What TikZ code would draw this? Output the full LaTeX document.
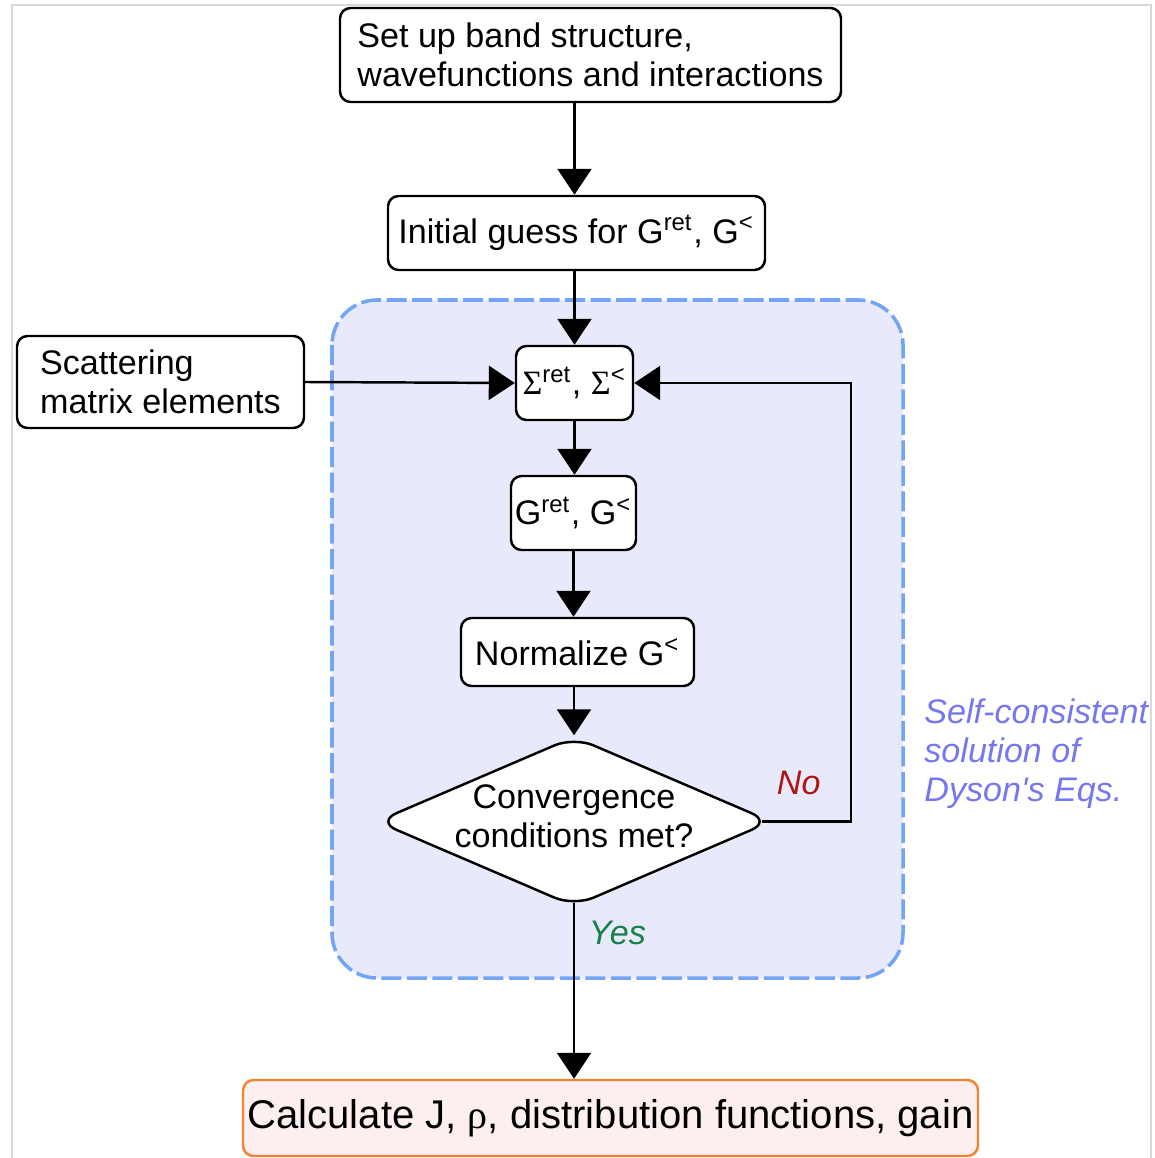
\documentclass[tikz,border=0pt]{standalone}
\usepackage{fontspec}
\setmainfont{Liberation Sans}
\newfontfamily\greekfont{Liberation Serif}
\usetikzlibrary{arrows.meta,shapes.geometric}

\definecolor{loopfill}{RGB}{233,233,252}
\definecolor{loopline}{RGB}{116,164,246}
\definecolor{loopnote}{RGB}{118,118,240}
\definecolor{nored}{RGB}{176,20,20}
\definecolor{yesgreen}{RGB}{24,128,72}
\definecolor{resultline}{RGB}{242,132,52}
\definecolor{resultfill}{RGB}{253,239,239}

\begin{document}
\begin{tikzpicture}[
        font=\fontsize{9.7}{11.1}\selectfont,
        box/.style={draw, line width=0.7pt, rounded corners=3pt, fill=white, inner sep=0pt},
        decision/.style={draw, line width=0.7pt, diamond, rounded corners=6pt, fill=white,
            inner sep=0pt, minimum width=3.95cm, minimum height=1.70cm},
        flow/.style={-{Triangle[width=3.4mm,length=2.6mm]}, line width=0.7pt},
        tag/.style={font=\fontsize{9.7}{11.1}\selectfont\itshape}
    ]
    \useasboundingbox (0,0) rectangle (11.54,-11.58);
    \draw[black!15, line width=0.4pt] (0.12,-11.58) -- (0.12,-0.05) -- (11.51,-0.05) -- (11.51,-11.58);

    \draw[fill=loopfill, draw=loopline, line width=1pt, dash pattern=on 2mm off 0.55mm,
        rounded corners=0.45cm] (3.32,-3.00) rectangle (9.03,-9.78);
    \node[right, align=left, text=loopnote, tag] (dysonnote) at (9.12,-7.54)
        {Self-consistent\\solution of\\Dyson\textquotesingle s Eqs.};

    \node[box, minimum width=5.01cm, minimum height=0.94cm, align=left] (setup) at (5.905,-0.55)
        {Set up band structure,\\wavefunctions and interactions};
    \node[box, minimum width=3.77cm, minimum height=0.74cm] (guess) at (5.765,-2.33)
        {Initial guess for G\textsuperscript{ret}, G\textsuperscript{<}};
    \node[box, minimum width=2.87cm, minimum height=0.92cm, align=left] (scatter) at (1.605,-3.82)
        {Scattering\\matrix elements};
    \node[box, minimum width=1.17cm, minimum height=0.74cm] (sigma) at (5.745,-3.83)
        {{\greekfont Σ}\textsuperscript{ret}, {\greekfont Σ}\textsuperscript{<}};
    \node[box, minimum width=1.25cm, minimum height=0.74cm] (green) at (5.735,-5.13)
        {G\textsuperscript{ret}, G\textsuperscript{<}};
    \node[box, minimum width=2.33cm, minimum height=0.68cm] (norm) at (5.775,-6.52)
        {Normalize G\textsuperscript{<}};
    \node[decision, label={[align=center, yshift=0.05cm]center:Convergence\\conditions met?}] (conv)
        at (5.74,-8.215) {};
    \node[box, draw=resultline, fill=resultfill, minimum width=7.35cm, minimum height=0.76cm,
        font=\fontsize{11.4}{13}\selectfont] (result) at (6.105,-11.18)
        {Calculate J, {\greekfont ρ}, distribution functions, gain};

    \draw[flow] (setup.south -| sigma.north) -- (guess.north -| sigma.north);
    \draw[flow] (guess.south -| sigma.north) -- (sigma.north);
    \draw[flow] (scatter.east) -- (sigma.west);
    \draw[flow] (sigma.south) -- (sigma.south |- green.north);
    \draw[flow] (green.south) -- (norm.north -| green.south);
    \draw[flow] (norm.south -| conv.north) -- (conv.north);
    \draw[flow, shorten <=-0.11cm] (conv.east) -- node[above=0.14cm, xshift=-0.13cm, text=nored, tag] {No}
        ++(0.78,0) |- (sigma.east);
    \draw[flow, shorten <=-0.05cm] (conv.south) -- node[pos=0.15, right=0.02cm, text=yesgreen, tag] {Yes}
        (result.north -| conv.south);
\end{tikzpicture}
\end{document}
